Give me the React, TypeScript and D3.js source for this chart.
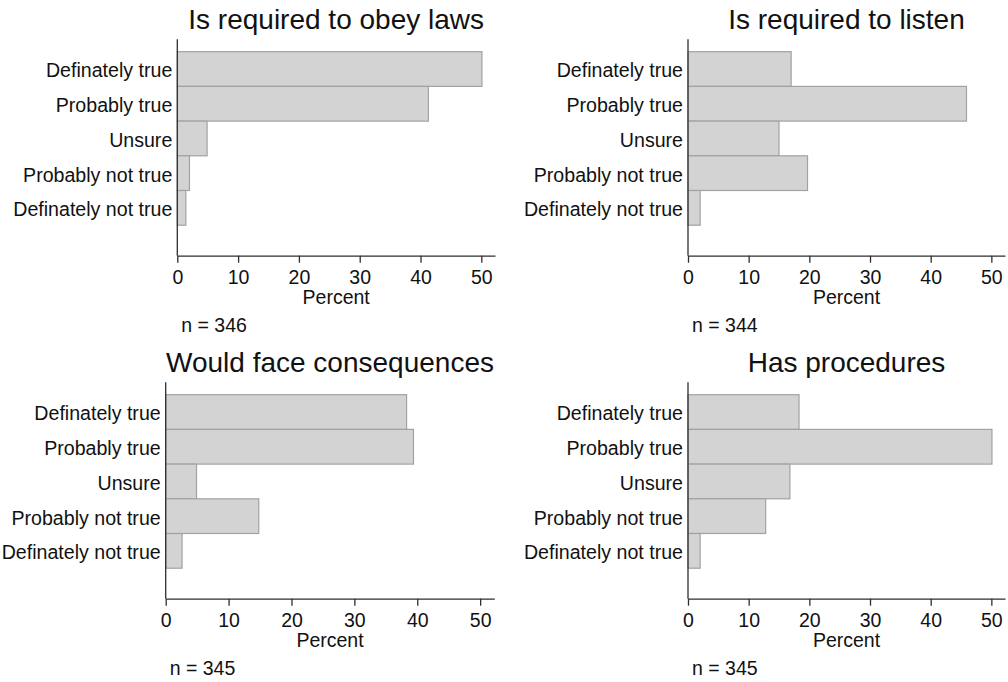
import { useEffect, useRef } from 'react'
import * as d3 from 'd3'

// ─── Data ────────────────────────────────────────────────────────────────────

const categories = [
  'Definately true',
  'Probably true',
  'Unsure',
  'Probably not true',
  'Definately not true',
]

const titles = [
  'Is required to obey laws',
  'Is required to listen',
  'Would face consequences',
  'Has procedures',
]

// percent of respondents per answer, one array per question
const obeyLaws = [50.1, 41.3, 4.9, 2.0, 1.4]
const listen = [17.0, 45.9, 15.0, 19.7, 2.0]
const consequences = [38.3, 39.4, 4.9, 14.8, 2.6]
const procedures = [18.3, 50.1, 16.8, 12.8, 2.0]

const sampleSizes = [346, 344, 345, 345]
const xTicks = [0, 10, 20, 30, 40, 50]
const xMax = 52.25

// ─── Layout ──────────────────────────────────────────────────────────────────

const W = 1008
const H = 682
const font = '"Liberation Sans", Arial, Helvetica, sans-serif'

const colors = {
  fill: '#d3d3d3',
  stroke: '#a2a2a2',
  axis: '#2e2e2e',
  text: '#111111',
}

// plot area left/right edge and vertical offset for each panel
const panelBoxes = [
  { left: 177.3, right: 495, top: 0 },
  { left: 688, right: 1005, top: 0 },
  { left: 165.7, right: 494.3, top: 343 },
  { left: 688, right: 1005, top: 343 },
]

const rows = {
  titleBase: 29.3,
  axisTop: 39.3,
  axisBottom: 255.7,
  bandTop: 51.7,
  bandBottom: 225.2,
  percentBase: 304,
  nBase: 331.7,
}

export default function App() {
  const ref = useRef<SVGSVGElement>(null)

  useEffect(() => {
    if (!ref.current) return
    const svg = d3.select(ref.current)
    svg.selectAll('*').remove()

    const series = [obeyLaws, listen, consequences, procedures]

    series.forEach((values, i) => {
      const box = panelBoxes[i]
      const g = svg.append('g').attr('transform', `translate(0,${box.top})`)

      const x = d3.scaleLinear().domain([0, xMax]).range([box.left, box.right])
      const y = d3
        .scaleBand<string>()
        .domain(categories)
        .range([rows.bandTop, rows.bandBottom])
        .padding(0)

      const data = categories.map((c, k) => ({ cat: c, v: values[k] }))

      // bars
      g.selectAll('.bar')
        .data(data)
        .join('rect')
        .attr('class', 'bar')
        .attr('x', x(0))
        .attr('y', (d) => y(d.cat)!)
        .attr('width', (d) => x(d.v) - x(0))
        .attr('height', y.bandwidth())
        .attr('fill', colors.fill)
        .attr('stroke', colors.stroke)
        .attr('stroke-width', 1.2)

      // category labels
      g.selectAll('.cat')
        .data(data)
        .join('text')
        .attr('class', 'cat')
        .attr('x', box.left - 5)
        .attr('y', (d) => y(d.cat)! + y.bandwidth() / 2 + 8.4)
        .attr('text-anchor', 'end')
        .attr('font-size', 19.6)
        .attr('fill', colors.text)
        .text((d) => d.cat)

      // y axis line
      g.append('line')
        .attr('x1', box.left)
        .attr('x2', box.left)
        .attr('y1', rows.axisTop)
        .attr('y2', rows.axisBottom)
        .attr('stroke', colors.axis)
        .attr('stroke-width', 1.3)

      // x axis
      g.append('g')
        .attr('transform', `translate(0,${rows.axisBottom})`)
        .call(
          d3.axisBottom(x)
            .tickValues(xTicks)
            .tickSize(7)
            .tickSizeOuter(0)
            .tickPadding(7)
            .tickFormat((v) => `${v}`)
        )
        .call((sel) => sel.select('.domain').attr('stroke', colors.axis).attr('stroke-width', 1.3))
        .call((sel) => sel.selectAll('.tick line').attr('stroke', colors.axis).attr('stroke-width', 1.3))
        .call((sel) =>
          sel.selectAll('.tick text')
            .attr('font-size', 19.5)
            .attr('font-family', font)
            .attr('fill', colors.text)
        )

      // axis title
      g.append('text')
        .attr('x', (box.left + box.right) / 2)
        .attr('y', rows.percentBase)
        .attr('text-anchor', 'middle')
        .attr('font-size', 19.5)
        .attr('fill', colors.text)
        .text('Percent')

      // panel title
      g.append('text')
        .attr('x', (box.left + box.right) / 2)
        .attr('y', rows.titleBase)
        .attr('text-anchor', 'middle')
        .attr('font-size', 28)
        .attr('fill', colors.text)
        .text(titles[i])

      // sample size note
      g.append('text')
        .attr('x', box.left + 4)
        .attr('y', rows.nBase)
        .attr('font-size', 19.5)
        .attr('fill', colors.text)
        .text(`n = ${sampleSizes[i]}`)
    })
  }, [])

  return (
    <svg
      ref={ref}
      width={W}
      height={H}
      viewBox={`0 0 ${W} ${H}`}
      style={{ position: 'absolute', left: 0, top: 0, display: 'block', background: '#fff', fontFamily: font }}
    />
  )
}
